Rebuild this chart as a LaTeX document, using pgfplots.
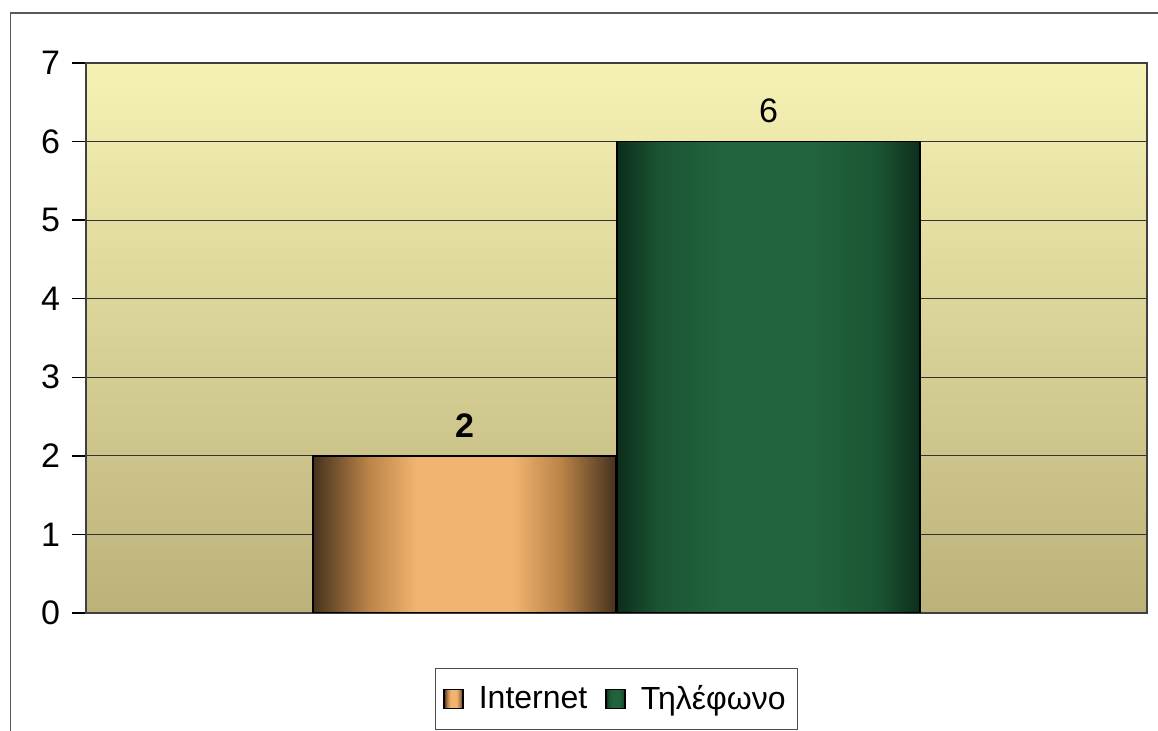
\documentclass[border=0pt]{standalone}
\usepackage{pgfplots}
\pgfplotsset{compat=1.18}
\usepackage{fontspec}
\setmainfont{Liberation Sans}
\definecolor{bgTop}{HTML}{F6F1B4}
\definecolor{bgMid}{HTML}{E6D98E}
\definecolor{bgBot}{HTML}{BBB27A}
\definecolor{orD}{HTML}{45321D}
\definecolor{orM}{HTML}{B98248}
\definecolor{orL}{HTML}{F1B470}
\definecolor{grD}{HTML}{0C2E1B}
\definecolor{grM}{HTML}{1A5533}
\definecolor{grL}{HTML}{21633C}
\pgfdeclarehorizontalshading{orshade}{100bp}{color(0bp)=(orD); color(25bp)=(orD); color(34bp)=(orM); color(42bp)=(orL); color(58bp)=(orL); color(66bp)=(orM); color(75bp)=(orD); color(100bp)=(orD)}
\pgfdeclarehorizontalshading{grshade}{100bp}{color(0bp)=(grD); color(25bp)=(grD); color(32bp)=(grM); color(42bp)=(grL); color(58bp)=(grL); color(68bp)=(grM); color(75bp)=(grD); color(100bp)=(grD)}
\pgfplotstableread{
x y
0 2
}\internetdata
\pgfplotstableread{
x y
0 6
}\phonedata
\begin{document}
\begin{tikzpicture}
\useasboundingbox (0pt,0pt) rectangle (579pt,-365.5pt);
\fill[white] (0pt,0pt) rectangle (579pt,-365.5pt);
\draw[black!65, line width=0.8pt] (5.2pt,-420pt) -- (5.2pt,-6.4pt) -- (600pt,-6.4pt);
\begin{axis}[
  at={(43pt,-306.5pt)}, anchor=south west,
  scale only axis, width=530.5pt, height=275pt,
  xmin=-0.5, xmax=0.5, ymin=0, ymax=7,
  xtick=\empty,
  ytick={0,1,2,3,4,5,6,7},
  ymajorgrids,
  major grid style={black!80, line width=0.6pt},
  axis line style={black!75, line width=0.7pt},
  tick align=outside,
  tick style={black, line width=0.7pt},
  major tick length=7pt,
  ytick pos=left,
  /pgf/number format/assume math mode=true,
  tick label style={font=\fontsize{17}{20}\selectfont},
  yticklabel style={xshift=-2.5pt},
  axis background/.style={top color=bgTop, middle color=bgMid, bottom color=bgBot},
  ybar, bar width=151.5pt,
  legend columns=-1,
  legend style={at={(0.5,-0.1564)}, anchor=center, draw=black!70, line width=0.6pt,
    font=\fontsize{16}{19}\selectfont, inner xsep=4pt, inner ysep=6.5pt,
    /tikz/every odd column/.append style={column sep=5.5pt},
    /tikz/every even column/.append style={column sep=7pt}},
  legend image code/.code={\draw[#1, line width=0.8pt] (0pt,-4.8pt) rectangle (9.5pt,4.8pt);},
  nodes near coords,
  every node near coord/.append style={font=\fontsize{17}{20}\selectfont, yshift=5.5pt, black},
]
\addplot[draw=black, line width=0.9pt, shading=orshade, bar shift=-76pt,
  every node near coord/.append style={font=\fontsize{17}{20}\selectfont\bfseries}]
  table[x=x,y=y] {\internetdata};
\addlegendentry{Internet}
\addplot[draw=black, line width=0.9pt, shading=grshade, bar shift=76pt]
  table[x=x,y=y] {\phonedata};
\addlegendentry{Τηλέφωνο}
\end{axis}
\end{tikzpicture}
\end{document}
